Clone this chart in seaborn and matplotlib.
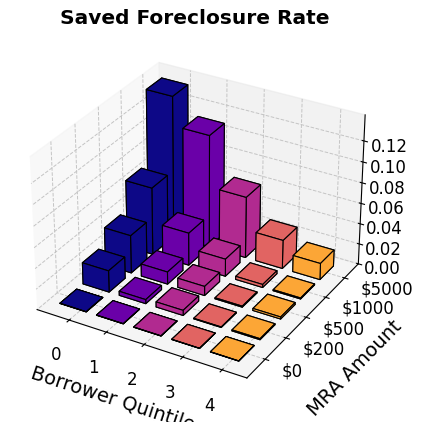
import matplotlib
matplotlib.use('Agg')
import matplotlib.pyplot as plt
import seaborn as sns
import numpy as np

quintiles = [0, 1, 2, 3, 4]
mra_labels = ['$0', '$200', '$500', '$1000', '$5000']
bar_colors = ['#0d0887', '#6a00a8', '#b12a90', '#e16462', '#fca636']

rate_0 = [0.0002, 0.0002, 0.0002, 0.0002, 0.0002]
rate_200 = [0.021, 0.004, 0.005, 0.0005, 0.001]
rate_500 = [0.037, 0.012, 0.009, 0.001, 0.002]
rate_1000 = [0.066, 0.032, 0.017, 0.003, 0.001]
rate_5000 = [0.138, 0.110, 0.060, 0.028, 0.016]
rates = np.array([rate_0, rate_200, rate_500, rate_1000, rate_5000])

sns.set_palette(bar_colors)
plt.rcParams['grid.linestyle'] = '--'
plt.rcParams['grid.color'] = '#c4c4c4'
plt.rcParams['grid.linewidth'] = 0.7

fig = plt.figure(figsize=(4.23, 4.22), dpi=100)
ax = fig.add_axes([0.02, 0.042, 0.885, 0.885], projection='3d', computed_zorder=False)
ax.set_box_aspect((4, 4, 2.9), zoom=0.992)

# back rows first, so the nearer bars cover the tall ones
order = 1
for j in range(len(mra_labels) - 1, -1, -1):
    for i in quintiles:
        ax.bar3d(i - 0.57, j - 0.36, 0, 0.72, 0.72, rates[j][i], color=bar_colors[i],
                 edgecolor='black', linewidth=0.8, shade=False, zorder=order)
        order += 1

ax.set_xlim(-0.88, 4.62)
ax.set_ylim(-0.85, 4.75)
ax.set_zlim(0, 0.1444)
ax.set_xticks(quintiles)
ax.set_xticklabels(quintiles, fontsize=12)
ax.set_yticks(np.arange(5))
ax.set_yticklabels(mra_labels, fontsize=12, ha='left', va='baseline')
ax.set_zticks([0, 0.02, 0.04, 0.06, 0.08, 0.10, 0.12])
ax.set_zticklabels(['0.00', '0.02', '0.04', '0.06', '0.08', '0.10', '0.12'], fontsize=12)
ax.tick_params(axis='x', pad=6)
ax.tick_params(axis='y', pad=3)
ax.tick_params(axis='z', pad=3)
ax.set_xlabel('Borrower Quintile', fontsize=14, labelpad=8)
ax.set_ylabel('MRA Amount', fontsize=14, labelpad=12)
fig.text(0.46, 0.955, 'Saved Foreclosure Rate', fontweight='bold', fontsize=14.5, ha='center', va='center')
plt.savefig('out.png', dpi=100)
